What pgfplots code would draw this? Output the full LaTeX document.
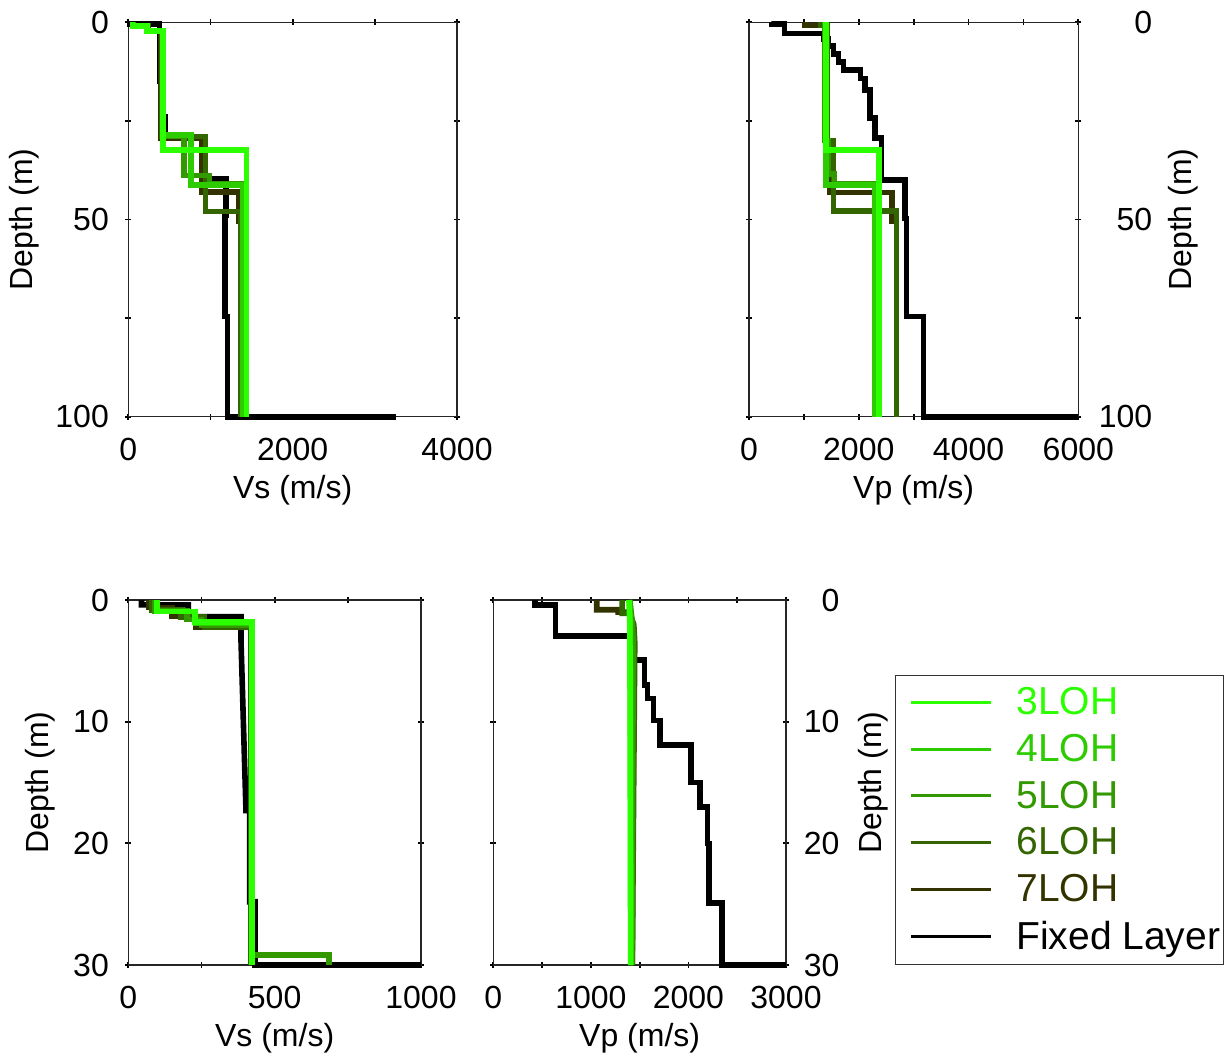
\documentclass[border=0pt]{standalone}
\usepackage{fontspec}
\setmainfont{Liberation Sans}
\usepackage{pgfplots}
\pgfplotsset{compat=1.18}
\definecolor{cA}{HTML}{2BFF00}
\definecolor{cB}{HTML}{2DCC00}
\definecolor{cC}{HTML}{339900}
\definecolor{cD}{HTML}{336600}
\definecolor{cE}{HTML}{333300}
\pgfplotsset{
  prof/.style={
    scale only axis, y dir=reverse, clip=false,
    axis line style={line width=0.6pt, black!85},
    tick align=center, major tick length=3pt,
    tick style={line width=0.9pt, black},
    /pgf/number format/assume math mode=true,
    tick label style={font=\fontsize{16}{19}\selectfont},
    xticklabel style={yshift=-5.5pt},
    label style={font=\fontsize{16}{19}\selectfont},
    xlabel style={at={(axis description cs:0.5,-0.186)}, anchor=center},
    every axis plot/.append style={line width=2.8pt},
  },
  lefty/.style={
    yticklabel style={xshift=-4.7pt},
    ylabel style={at={(axis description cs:#1,0.5)}, anchor=center, rotate=0},
  },
  righty/.style 2 args={
    yticklabel pos=right,
    yticklabel style={anchor=east, xshift=#1},
    ylabel style={at={(axis description cs:#2,0.5)}, anchor=center, rotate=0},
  },
}
\begin{document}
\begin{tikzpicture}
\useasboundingbox (0,0) rectangle (614.5pt,-528.5pt);

% top left: Vs to 100 m
\begin{axis}[prof, lefty=-0.317,
  at={(64.15pt,-208.35pt)}, anchor=south west, width=164.35pt, height=197.2pt,
  xmin=0, xmax=4000, ymin=0, ymax=100,
  xtick={0,1000,2000,3000,4000}, xticklabels={0,,2000,,4000},
  ytick={0,25,50,75,100}, yticklabels={0,,50,,100},
  xlabel={Vs (m/s)}, ylabel={Depth (m)}]
\addplot[black] coordinates {(20,0)(20,0.5)(380,0.5)(380,15)(400,15)(400,24)(447,24)(447,29.4)(893,29.4)(893,39.6)(1190,39.6)(1190,49)(1175,49)(1175,74.6)(1205,74.6)(1205,100)(3260,100)};
\addplot[cE] coordinates {(60,0)(60,1)(240,1)(240,2.2)(400,2.2)(400,29.5)(890,29.5)(890,43)(1340,43)(1340,50.5)(1420,50.5)(1420,100)};
\addplot[cD] coordinates {(60,0)(60,1)(240,1)(240,2.2)(410,2.2)(410,29)(940,29)(940,48)(1370,48)(1370,100)};
\addplot[cC] coordinates {(55,0)(55,1)(235,1)(235,2.2)(420,2.2)(420,29)(680,29)(680,38.8)(990,38.8)(990,41)(1400,41)(1400,100)};
\addplot[cB] coordinates {(50,0)(50,1)(230,1)(230,2.2)(420,2.2)(420,28.5)(760,28.5)(760,41.2)(1390,41.2)(1390,100)};
\addplot[cA] coordinates {(50,0)(50,1)(230,1)(230,2.2)(420,2.2)(420,32.4)(1440,32.4)(1440,100)};
\end{axis}

% top right: Vp to 100 m
\begin{axis}[prof, righty={39pt}{1.318},
  at={(374.5pt,-208.35pt)}, anchor=south west, width=164.65pt, height=197.2pt,
  xmin=0, xmax=6000, ymin=0, ymax=100,
  xtick={0,1000,2000,3000,4000,5000,6000}, xticklabels={0,,2000,,4000,,6000},
  ytick={0,25,50,75,100}, yticklabels={0,,50,,100},
  xlabel={Vp (m/s)}, ylabel={Depth (m)}]
\addplot[black] coordinates {(413,0)(413,0.4)(650,0.4)(650,2.8)(1354,2.8)(1354,4.2)(1450,4.2)(1450,6)(1540,6)(1540,8)(1630,8)(1630,10)(1719,10)(1719,12.1)(2034,12.1)(2034,14.2)(2113,14.2)(2113,17.2)(2204,17.2)(2204,24.3)(2296,24.3)(2296,29.4)(2417,29.4)(2417,40)(2842,40)(2842,49.7)(2873,49.7)(2873,74.6)(3176,74.6)(3176,100)(6000,100)};
\addplot[cE] coordinates {(1020,0)(1020,0.8)(1420,0.8)(1420,30)(1480,30)(1480,43.2)(2600,43.2)(2600,50.5)(2690,50.5)(2690,100)};
\addplot[cD] coordinates {(1300,0)(1300,0.8)(1420,0.8)(1420,30)(1540,30)(1540,47.8)(2690,47.8)(2690,100)};
\addplot[cC] coordinates {(1380,0)(1380,30)(1450,30)(1450,38.5)(1560,38.5)(1560,41)(2320,41)(2320,100)};
\addplot[cB] coordinates {(1400,0)(1400,41.2)(2300,41.2)(2300,100)};
\addplot[cA] coordinates {(1400,0)(1400,32.4)(2370,32.4)(2370,100)};
\end{axis}

% bottom left: Vs to 30 m
\begin{axis}[prof, lefty=-0.302,
  xlabel style={at={(axis description cs:0.5,-0.2)}},
  at={(64.15pt,-482.5pt)}, anchor=south west, width=146.35pt, height=182.5pt,
  xmin=0, xmax=1000, ymin=0, ymax=30,
  xtick={0,250,500,750,1000}, xticklabels={0,,500,,1000},
  ytick={0,10,20,30},
  xlabel={Vs (m/s)}, ylabel={Depth (m)}]
\addplot[black] coordinates {(45,0)(45,0.4)(205,0.4)(205,1.37)(385,1.37)(385,3.3)(402,17.3)(415,17.3)(415,24.8)(433,24.8)(433,30)(1000,30)};
\addplot[cE] coordinates {(70,0)(70,0.6)(150,0.6)(150,1.3)(230,1.3)(230,2.2)(418,2.2)(418,30)};
\addplot[cD] coordinates {(80,0)(80,0.8)(180,0.8)(180,1.4)(260,1.4)(260,2.2)(420,2.2)(420,30)};
\addplot[cC] coordinates {(90,0)(90,0.9)(200,0.9)(200,1.6)(250,1.6)(250,2.1)(425,2.1)(425,29.2)(685,29.2)(685,30)};
\addplot[cB] coordinates {(98,0)(98,0.95)(230,0.95)(230,1.9)(422,1.9)(422,30)};
\addplot[cA] coordinates {(98,0)(98,0.95)(228,0.95)(228,1.8)(422,1.8)(422,30)};
\end{axis}

% bottom right: Vp to 30 m, with legend
\begin{axis}[prof, righty={28.8pt}{1.297},
  xlabel style={at={(axis description cs:0.5,-0.2)}},
  at={(246.65pt,-482.5pt)}, anchor=south west, width=146.35pt, height=182.5pt,
  xmin=0, xmax=3000, ymin=0, ymax=30,
  xtick={0,500,1000,1500,2000,2500,3000}, xticklabels={0,,1000,,2000,,3000},
  ytick={0,10,20,30},
  xlabel={Vp (m/s)}, ylabel={Depth (m)},
  reverse legend,
  legend cell align=left,
  legend image code/.code={\draw[#1, line width=1.5pt] (0pt,0pt) -- (40pt,0pt);},
  legend style={at={(1.372,0)}, anchor=south west, draw=black!80, line width=0.5pt,
    font=\fontsize{19.5}{23}\selectfont, row sep=4.3pt, inner xsep=7pt, inner ysep=4pt,
    nodes={inner xsep=4pt},
    /tikz/every odd column/.append style={column sep=8pt}}]
\addplot[black] coordinates {(427,0)(427,0.41)(636,0.41)(636,2.96)(1420,2.96)(1420,4.93)(1548,4.93)(1548,7.0)(1582,7.0)(1582,8.1)(1640,8.1)(1640,9.9)(1708,9.9)(1708,11.9)(2026,11.9)(2026,15.0)(2119,15.0)(2119,17.0)(2197,17.0)(2197,20)(2211,20)(2211,24.9)(2347,24.9)(2347,30)(3000,30)};
\addlegendentry{Fixed Layer\hspace*{-9.5pt}}
\addplot[cE] coordinates {(1060,0)(1060,0.8)(1280,0.8)(1280,1.0)(1400,1.0)(1440,2.5)(1425,30)};
\addlegendentry{\textcolor{cE}{7LOH}}
\addplot[cD] coordinates {(1320,0)(1320,1.1)(1400,1.1)(1440,2)(1450,3.5)(1425,30)};
\addlegendentry{\textcolor{cD}{6LOH}}
\addplot[cC] coordinates {(1400,0)(1420,1.5)(1435,3.5)(1420,30)};
\addlegendentry{\textcolor{cC}{5LOH}}
\addplot[cB] coordinates {(1395,0)(1405,2)(1410,30)};
\addlegendentry{\textcolor{cB}{4LOH}}
\addplot[cA] coordinates {(1390,0)(1400,2)(1408,30)};
\addlegendentry{\textcolor{cA}{3LOH}}
\end{axis}
\end{tikzpicture}
\end{document}
